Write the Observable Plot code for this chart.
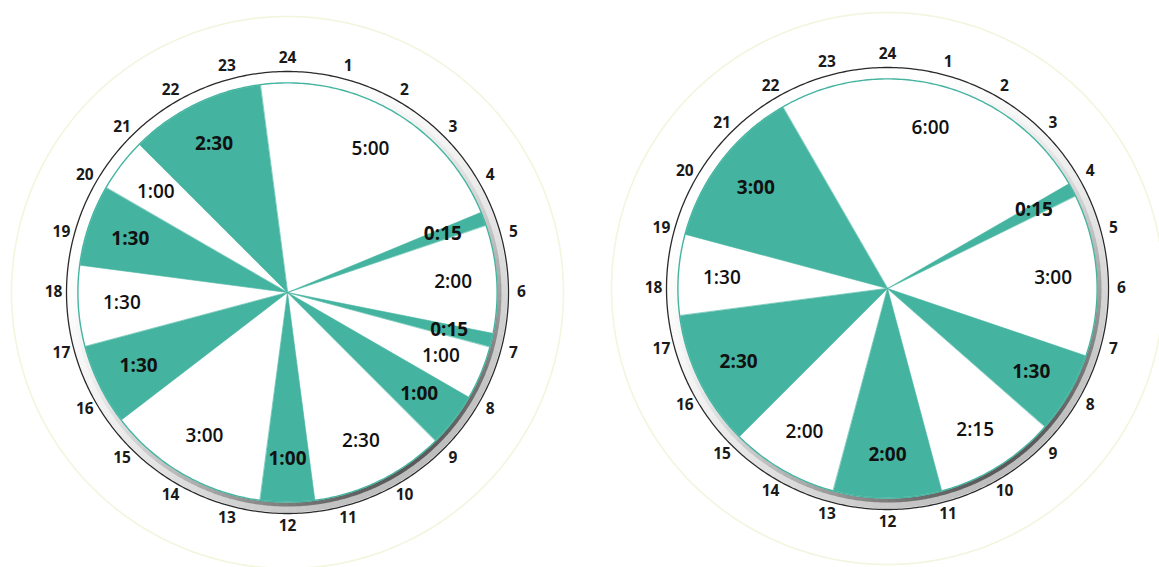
<!DOCTYPE html>
<html><head><meta charset="utf-8">
<script src="https://cdn.jsdelivr.net/npm/d3@7"></script>
<script src="https://cdn.jsdelivr.net/npm/@observablehq/plot@0.6"></script>
<style>body{margin:0;background:#fff} svg{display:block}</style>
</head><body><div id="chart"></div>
<script>
// ---- data ----
const hourLabels = ["1","2","3","4","5","6","7","8","9","10","11","12","13","14","15","16","17","18","19","20","21","22","23","24"];
// left clock: durations clockwise, starting at 23:30 (white segment first, then alternating)
const leftStart = 23.5;
const leftDurations = ["5:00","0:15","2:00","0:15","1:00","1:00","2:30","1:00","3:00","1:30","1:30","1:30","1:00","2:30"];
// right clock: starting at 22:00
const rightStart = 22;
const rightDurations = ["6:00","0:15","3:00","1:30","2:15","2:00","2:00","2:30","1:30","3:00"];

// ---- layout ----
const W = 1159, H = 567;
const TEAL = "#44b4a0";
const R_IN = 209, R_OUT = 221, R_HALO = 276, R_HOUR = 234, R_LABEL = 166;
const clocks = [
  {name: "left", cx: 287, cy: 292, start: leftStart, durations: leftDurations},
  {name: "right", cx: 887, cy: 288, start: rightStart, durations: rightDurations}
];
const toHours = s => { const [h, m] = s.split(":").map(Number); return h + m / 60; };
const pt = (c, h, r) => { const a = h / 24 * 2 * Math.PI; return {x: c.cx + r * Math.sin(a), y: c.cy - r * Math.cos(a)}; };

const segments = [];
for (const c of clocks) {
  let t = c.start;
  c.durations.forEach((d, i) => {
    const dh = toHours(d);
    segments.push({clock: c, id: c.name + i, start: t, end: t + dh, label: d, filled: i % 2 === 1});
    t += dh;
  });
}

const wedgePts = [];
for (const s of segments) {
  wedgePts.push({id: s.id, filled: s.filled, ...pt(s.clock, 0, 0)});
  const n = Math.max(2, Math.ceil((s.end - s.start) / 0.02));
  for (let k = 0; k <= n; k++) {
    const h = s.start + (s.end - s.start) * k / n;
    wedgePts.push({id: s.id, filled: s.filled, ...pt(s.clock, h, R_IN)});
  }
}

function ring(r, tag) {
  const out = [];
  for (const c of clocks) for (let k = 0; k < 480; k++) out.push({id: c.name + tag, ...pt(c, k * 24 / 480, r)});
  return out;
}

// bezel shadow pieces (strongest toward the lower right), opaque blended colours
function shade(r, tag, p, dark) {
  const mix = d3.interpolateRgb("#ffffff", dark);
  const out = [];
  for (const c of clocks) for (let k = 0; k < 160; k++) {
    const h0 = k * 0.15, hm = h0 + 0.075;
    const a = hm / 24 * 360;
    const v = Math.pow((1 + Math.cos((a - 145) * Math.PI / 180)) / 2, p);
    const col = mix(v);
    for (let j = 0; j <= 4; j++) out.push({id: c.name + tag + k, col, ...pt(c, h0 - 0.005 + j * 0.04, r)});
  }
  return out;
}

const hourPts = [];
for (const c of clocks) hourLabels.forEach((lab, i) => hourPts.push({text: lab, ...pt(c, i + 1, R_HOUR)}));

const labelPts = segments.map(s => ({text: s.label, filled: s.filled, ...pt(s.clock, (s.start + s.end) / 2, R_LABEL)}));

const font = "'Open Sans', 'Noto Sans', sans-serif";

const chart = Plot.plot({
  width: W, height: H,
  margin: 0,
  x: {domain: [0, W], axis: null},
  y: {domain: [H, 0], axis: null},
  style: {background: "#fff"},
  marks: [
    Plot.line(ring(R_HALO, "halo"), {x: "x", y: "y", z: "id", stroke: "#f3f5de", strokeWidth: 1.6, curve: "linear-closed"}),
    Plot.line(wedgePts.filter(d => d.filled), {x: "x", y: "y", z: "id", fill: TEAL, stroke: TEAL, strokeWidth: 0.6, curve: "linear-closed"}),
    Plot.line(shade(R_IN + 7, "s2", 2.0, "#bdbdbd"), {x: "x", y: "y", z: "id", stroke: "col", strokeWidth: 8, strokeLinecap: "butt"}),
    Plot.line(shade(R_IN + 3, "s1", 2.4, "#5a5a5a"), {x: "x", y: "y", z: "id", stroke: "col", strokeWidth: 4, strokeLinecap: "butt"}),
    Plot.line(ring(R_IN + 0.6, "inner"), {x: "x", y: "y", z: "id", stroke: TEAL, strokeWidth: 1.4, curve: "linear-closed"}),
    Plot.line(ring(R_OUT, "outer"), {x: "x", y: "y", z: "id", stroke: "#2a2a2a", strokeWidth: 1.3, curve: "linear-closed"}),
    Plot.text(hourPts, {x: "x", y: "y", text: "text", fontSize: 15.5, fontWeight: 700, fill: "#1a1a1a", fontFamily: font}),
    Plot.text(labelPts.filter(d => !d.filled), {x: "x", y: "y", text: "text", fontSize: 19, fontWeight: 600, fill: "#111", fontFamily: font}),
    Plot.text(labelPts.filter(d => d.filled), {x: "x", y: "y", text: "text", fontSize: 19, fontWeight: 700, fill: "#111", fontFamily: font})
  ]
});
document.getElementById("chart").appendChild(chart);
</script>
</body></html>
